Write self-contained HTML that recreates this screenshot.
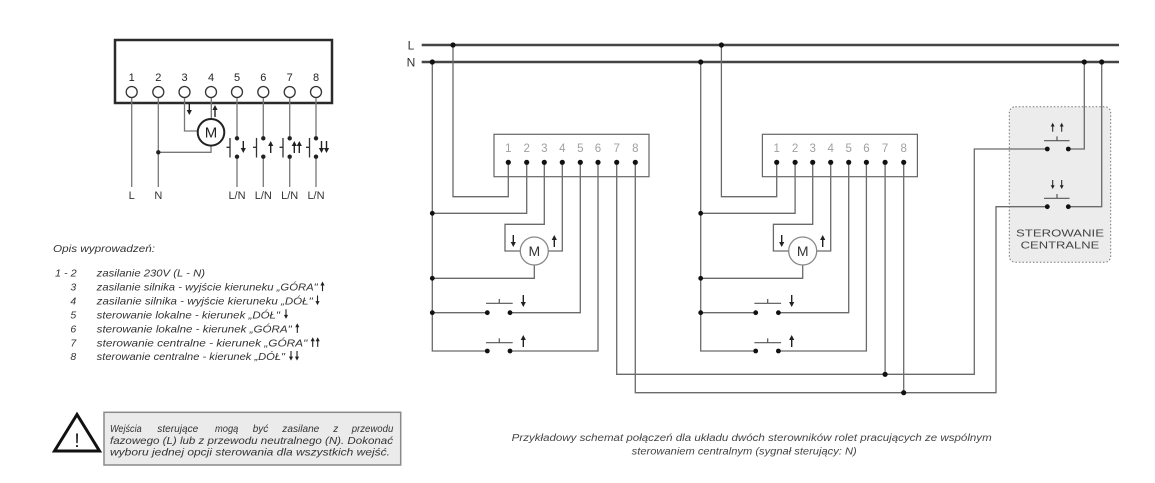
<!DOCTYPE html>
<html><head><meta charset="utf-8"><style>
html,body{margin:0;padding:0;background:#fff;}
svg{display:block;}
text{font-family:"Liberation Sans",Arial,sans-serif;}
.it{font-style:italic;}
</style></head><body>
<svg width="1155" height="483" viewBox="0 0 1155 483" xmlns="http://www.w3.org/2000/svg">
<defs>
<g id="au"><path d="M0,3.5V12" stroke="#222" stroke-width="1.4"/><path d="M-2.6,5L0,0L2.6,5Z" fill="#222"/></g>
<g id="ad"><path d="M0,0V8.5" stroke="#222" stroke-width="1.4"/><path d="M-2.6,7L0,12L2.6,7Z" fill="#222"/></g>
</defs>

<!-- ===== LEFT MODULE ===== -->
<rect x="115" y="40" width="217" height="63" fill="#fff" stroke="#2a2a2a" stroke-width="2.5"/>
<g font-size="11" fill="#222" text-anchor="middle">
<text x="131.7" y="81">1</text><text x="158.3" y="81">2</text><text x="184.5" y="81">3</text><text x="211" y="81">4</text>
<text x="237" y="81">5</text><text x="263.3" y="81">6</text><text x="289.7" y="81">7</text><text x="316" y="81">8</text>
</g>
<g stroke="#777" stroke-width="1.3" fill="none">
<path d="M131.7,97.5V187"/>
<path d="M158.3,97.5V187"/>
<path d="M184.5,97.5V131H197.7"/>
<path d="M211.3,97.5V119"/>
<path d="M211,145.6V152.3H158.3"/>
<path d="M237,97.5V138.3M237,156.7V187"/>
<path d="M263.3,97.5V138.3M263.3,156.7V187"/>
<path d="M289.7,97.5V138.3M289.7,156.7V187"/>
<path d="M316,97.5V138.3M316,156.7V187"/>
</g>
<g stroke="#333" stroke-width="1.3" fill="none">
<path d="M230,138V157.5M226.5,147.3H230"/>
<path d="M256.5,138V157.5M253,147.3H256.5"/>
<path d="M283,138V157.5M279.5,147.3H283"/>
<path d="M309.5,138V157.5M306,147.3H309.5"/>
</g>
<g fill="#fff" stroke="#333" stroke-width="1.3">
<circle cx="131.7" cy="92" r="5.5"/><circle cx="158.3" cy="92" r="5.5"/><circle cx="184.5" cy="92" r="5.5"/><circle cx="211" cy="92" r="5.5"/>
<circle cx="237" cy="92" r="5.5"/><circle cx="263.3" cy="92" r="5.5"/><circle cx="289.7" cy="92" r="5.5"/><circle cx="316" cy="92" r="5.5"/>
</g>
<circle cx="211" cy="132.3" r="13.3" fill="#fff" stroke="#222" stroke-width="2"/>
<text x="211" y="137.5" font-size="15" fill="#222" text-anchor="middle">M</text>
<g fill="#222">
<circle cx="158.3" cy="152.3" r="2.2"/>
<circle cx="237" cy="138.3" r="2.2"/><circle cx="237" cy="156.7" r="2.2"/>
<circle cx="263.3" cy="138.3" r="2.2"/><circle cx="263.3" cy="156.7" r="2.2"/>
<circle cx="289.7" cy="138.3" r="2.2"/><circle cx="289.7" cy="156.7" r="2.2"/>
<circle cx="316" cy="138.3" r="2.2"/><circle cx="316" cy="156.7" r="2.2"/>
</g>
<use href="#ad" x="189.3" y="103"/>
<use href="#au" x="215" y="105"/>
<use href="#ad" x="243.3" y="141"/>
<use href="#au" x="270.7" y="141"/>
<use href="#au" x="294.3" y="141"/><use href="#au" x="299.3" y="141"/>
<use href="#ad" x="321.5" y="141"/><use href="#ad" x="326.5" y="141"/>
<g font-size="11" fill="#333" text-anchor="middle">
<text x="131.7" y="199">L</text><text x="158.3" y="199">N</text>
<text x="237" y="199">L/N</text><text x="263.3" y="199">L/N</text><text x="289.7" y="199">L/N</text><text x="316" y="199">L/N</text>
</g>

<!-- ===== LEGEND ===== -->
<g class="it" font-size="10.5" fill="#333">
<text x="53" y="252" textLength="102" lengthAdjust="spacingAndGlyphs">Opis wyprowadzeń:</text>
<text x="55" y="276.7" textLength="21.7" lengthAdjust="spacingAndGlyphs">1 - 2</text>
<text x="96.7" y="276.7" textLength="108.3" lengthAdjust="spacingAndGlyphs">zasilanie 230V (L - N)</text>
<text x="73.3" y="290.7" text-anchor="middle">3</text>
<text x="96.7" y="290.7" textLength="221" lengthAdjust="spacingAndGlyphs">zasilanie silnika - wyjście kieruneku „GÓRA"</text>
<text x="73.3" y="304.7" text-anchor="middle">4</text>
<text x="96.7" y="304.7" textLength="216" lengthAdjust="spacingAndGlyphs">zasilanie silnika - wyjście kieruneku „DÓŁ"</text>
<text x="73.3" y="318.3" text-anchor="middle">5</text>
<text x="96.7" y="318.3" textLength="183.3" lengthAdjust="spacingAndGlyphs">sterowanie lokalne - kierunek „DÓŁ"</text>
<text x="73.3" y="332.3" text-anchor="middle">6</text>
<text x="96.7" y="332.3" textLength="195" lengthAdjust="spacingAndGlyphs">sterowanie lokalne - kierunek „GÓRA"</text>
<text x="73.3" y="346.3" text-anchor="middle">7</text>
<text x="96.7" y="346.3" textLength="210.6" lengthAdjust="spacingAndGlyphs">sterowanie centralne - kierunek „GÓRA"</text>
<text x="73.3" y="360" text-anchor="middle">8</text>
<text x="96.7" y="360" textLength="188.3" lengthAdjust="spacingAndGlyphs">sterowanie centralne - kierunek „DÓŁ"</text>
</g>
<use href="#au" transform="translate(322.5,281.5) scale(0.8)"/>
<use href="#ad" transform="translate(317.5,295.5) scale(0.8)"/>
<use href="#ad" transform="translate(286,309.3) scale(0.8)"/>
<use href="#au" transform="translate(297.3,323.3) scale(0.8)"/>
<use href="#au" transform="translate(312.7,337.3) scale(0.8)"/><use href="#au" transform="translate(317.7,337.3) scale(0.8)"/>
<use href="#ad" transform="translate(291,351) scale(0.8)"/><use href="#ad" transform="translate(297,351) scale(0.8)"/>

<!-- ===== WARNING ===== -->
<path d="M77,414.5L54.5,451L99.5,451Z" fill="#fff" stroke="#111" stroke-width="3" stroke-linejoin="miter"/>
<text x="77" y="447" font-size="19" fill="#111" text-anchor="middle">!</text>
<rect x="104" y="412.3" width="296.7" height="52.7" fill="#ebebeb" stroke="#8a8a8a" stroke-width="1.5"/>
<g class="it" font-size="10.5" fill="#333">
<text x="110" y="432" textLength="31.7" lengthAdjust="spacingAndGlyphs">Wejścia</text>
<text x="157.3" y="432" textLength="41" lengthAdjust="spacingAndGlyphs">sterujące</text>
<text x="215" y="432" textLength="23.3" lengthAdjust="spacingAndGlyphs">mogą</text>
<text x="252.7" y="432" textLength="15.6" lengthAdjust="spacingAndGlyphs">być</text>
<text x="282.3" y="432" textLength="37" lengthAdjust="spacingAndGlyphs">zasilane</text>
<text x="333.3" y="432" textLength="5" lengthAdjust="spacingAndGlyphs">z</text>
<text x="351.7" y="432" textLength="41.6" lengthAdjust="spacingAndGlyphs">przewodu</text>
<text x="110" y="444" textLength="283" lengthAdjust="spacingAndGlyphs">fazowego (L) lub z przewodu neutralnego (N). Dokonać</text>
<text x="110" y="455.7" textLength="280" lengthAdjust="spacingAndGlyphs">wyboru jednej opcji sterowania dla wszystkich wejść.</text>
</g>

<!-- ===== RIGHT DIAGRAM ===== -->
<!-- central control box -->
<rect x="1009.3" y="106.7" width="101.4" height="155.6" rx="6" ry="6" fill="#ececec" stroke="#777" stroke-width="1" stroke-dasharray="1.5,2"/>
<g font-size="10" fill="#444">
<text x="1016" y="236.3" textLength="88" lengthAdjust="spacingAndGlyphs">STEROWANIE</text>
<text x="1020.7" y="248.6" textLength="78.6" lengthAdjust="spacingAndGlyphs">CENTRALNE</text>
</g>

<!-- bus lines -->
<g stroke="#444" stroke-width="2.5">
<path d="M421.7,45H1119"/>
<path d="M421.7,62H1119"/>
</g>
<g font-size="12" fill="#333" text-anchor="middle">
<text x="411" y="49.5">L</text><text x="411" y="66.3">N</text>
</g>

<!-- modules -->
<rect x="494" y="134.3" width="155" height="42.4" fill="none" stroke="#666" stroke-width="1.2"/>
<rect x="762.4" y="134.3" width="155" height="42.4" fill="none" stroke="#666" stroke-width="1.2"/>
<g font-size="11.5" fill="#a0a0a0" text-anchor="middle">
<text x="508.3" y="152">1</text><text x="526.7" y="152">2</text><text x="544.3" y="152">3</text><text x="562.3" y="152">4</text>
<text x="580.3" y="152">5</text><text x="598" y="152">6</text><text x="616.7" y="152">7</text><text x="635.3" y="152">8</text>
<text x="776.7" y="152">1</text><text x="795.1" y="152">2</text><text x="812.7" y="152">3</text><text x="830.7" y="152">4</text>
<text x="848.7" y="152">5</text><text x="866.4" y="152">6</text><text x="885.1" y="152">7</text><text x="903.7" y="152">8</text>
</g>

<g stroke="#6a6a6a" stroke-width="1.3" fill="none">
<!-- module 1 -->
<path d="M453,45V196.7H508.3V162.3"/>
<path d="M432.3,62V351H487.3"/>
<path d="M432.3,213.3H526.7V162.3"/>
<path d="M544.3,162.3V224.3H505V251H520.3"/>
<path d="M562.3,162.3V251H548.3"/>
<path d="M534.3,265V278.3H432.3"/>
<path d="M580.3,162.3V312.7H510"/>
<path d="M432.3,312.7H487.3"/>
<path d="M598,162.3V351H510"/>
<path d="M616.7,162.3V374.3H974.3V149H1047.3"/>
<path d="M635.3,162.3V392.7H996V206.7H1047.3"/>
<!-- module 2 -->
<path d="M721.4,45V196.7H776.7V162.3"/>
<path d="M700.7,62V351H755.7"/>
<path d="M700.7,213.3H795.1V162.3"/>
<path d="M812.7,162.3V224.3H773.4V251H788.7"/>
<path d="M830.7,162.3V251H816.7"/>
<path d="M802.7,265V278.3H700.7"/>
<path d="M848.7,162.3V312.7H778.4"/>
<path d="M700.7,312.7H755.7"/>
<path d="M866.4,162.3V351H778.4"/>
<path d="M885.1,162.3V374.3"/>
<path d="M903.7,162.3V392.7"/>
<!-- central -->
<path d="M1084.3,62V149H1068.3"/>
<path d="M1101.7,62V206.7H1068.3"/>
</g>

<!-- switch bars -->
<g stroke="#555" stroke-width="1.2" fill="none">
<path d="M486,303.3H512.7M499.3,303.3V299"/>
<path d="M486,342.7H512.7M499.3,342.7V338.4"/>
<path d="M754.4,303.3H781.1M767.7,303.3V299"/>
<path d="M754.4,342.7H781.1M767.7,342.7V338.4"/>
<path d="M1044,140.7H1069.5M1057,140.7V136.4"/>
<path d="M1044,198.3H1069.5M1057,198.3V194"/>
</g>

<!-- motors -->
<circle cx="534.3" cy="251" r="14" fill="#fff" stroke="#888" stroke-width="1.3"/>
<text x="534.3" y="256.2" font-size="14" fill="#333" text-anchor="middle">M</text>
<circle cx="802.7" cy="251" r="14" fill="#fff" stroke="#888" stroke-width="1.3"/>
<text x="802.7" y="256.2" font-size="14" fill="#333" text-anchor="middle">M</text>

<!-- dots -->
<g fill="#111">
<circle cx="453" cy="45" r="2.6"/><circle cx="432.3" cy="62" r="2.6"/>
<circle cx="721.4" cy="45" r="2.6"/><circle cx="700.7" cy="62" r="2.6"/>
<circle cx="1084.3" cy="62" r="2.6"/><circle cx="1101.7" cy="62" r="2.6"/>
<circle cx="508.3" cy="162.3" r="2.6"/><circle cx="526.7" cy="162.3" r="2.6"/><circle cx="544.3" cy="162.3" r="2.6"/><circle cx="562.3" cy="162.3" r="2.6"/>
<circle cx="580.3" cy="162.3" r="2.6"/><circle cx="598" cy="162.3" r="2.6"/><circle cx="616.7" cy="162.3" r="2.6"/><circle cx="635.3" cy="162.3" r="2.6"/>
<circle cx="776.7" cy="162.3" r="2.6"/><circle cx="795.1" cy="162.3" r="2.6"/><circle cx="812.7" cy="162.3" r="2.6"/><circle cx="830.7" cy="162.3" r="2.6"/>
<circle cx="848.7" cy="162.3" r="2.6"/><circle cx="866.4" cy="162.3" r="2.6"/><circle cx="885.1" cy="162.3" r="2.6"/><circle cx="903.7" cy="162.3" r="2.6"/>
<circle cx="432.3" cy="213.3" r="2.4"/><circle cx="432.3" cy="278.3" r="2.4"/><circle cx="432.3" cy="312.7" r="2.4"/>
<circle cx="700.7" cy="213.3" r="2.4"/><circle cx="700.7" cy="278.3" r="2.4"/><circle cx="700.7" cy="312.7" r="2.4"/>
<circle cx="487.3" cy="312.7" r="2.4"/><circle cx="510" cy="312.7" r="2.4"/>
<circle cx="487.3" cy="351" r="2.4"/><circle cx="510" cy="351" r="2.4"/>
<circle cx="755.7" cy="312.7" r="2.4"/><circle cx="778.4" cy="312.7" r="2.4"/>
<circle cx="755.7" cy="351" r="2.4"/><circle cx="778.4" cy="351" r="2.4"/>
<circle cx="885.1" cy="374.3" r="2.6"/><circle cx="903.7" cy="392.7" r="2.6"/>
<circle cx="1047.3" cy="149" r="2.4"/><circle cx="1068.3" cy="149" r="2.4"/>
<circle cx="1047.3" cy="206.7" r="2.4"/><circle cx="1068.3" cy="206.7" r="2.4"/>
</g>

<!-- arrows right diagram -->
<use href="#ad" x="513.3" y="235"/>
<use href="#au" x="554.3" y="235"/>
<use href="#ad" x="781.7" y="235"/>
<use href="#au" x="822.7" y="235"/>
<use href="#ad" x="523.3" y="295"/>
<use href="#au" x="523.3" y="335"/>
<use href="#ad" x="791.7" y="295"/>
<use href="#au" x="791.7" y="335"/>
<use href="#au" transform="translate(1052.7,122.7) scale(0.75)"/><use href="#au" transform="translate(1061.7,122.7) scale(0.75)"/>
<use href="#ad" transform="translate(1052.7,180) scale(0.75)"/><use href="#ad" transform="translate(1061.7,180) scale(0.75)"/>

<!-- caption -->
<g class="it" font-size="10" fill="#444">
<text x="511.7" y="441" textLength="480" lengthAdjust="spacingAndGlyphs">Przykładowy schemat połączeń dla układu dwóch sterowników rolet pracujących ze wspólnym</text>
<text x="631.7" y="454.6" textLength="225" lengthAdjust="spacingAndGlyphs">sterowaniem centralnym (sygnał sterujący: N)</text>
</g>
</svg>
</body></html>
